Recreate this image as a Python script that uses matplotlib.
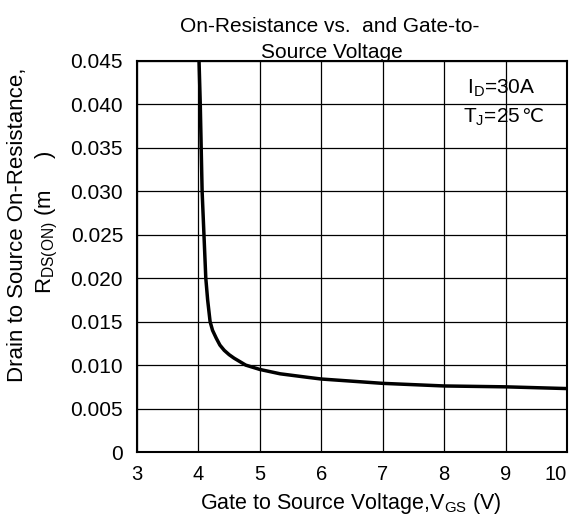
import matplotlib
matplotlib.use("Agg")
import matplotlib.pyplot as plt
import numpy as np

vgs = [4.01, 4.03, 4.045, 4.06, 4.09, 4.12, 4.15, 4.19, 4.23, 4.29, 4.35, 4.42, 4.50, 4.58, 4.77, 5.0, 5.33, 5.77, 6.0, 7.0, 8.0, 9.0, 10.0]
rds = [0.0450, 0.0400, 0.0350, 0.0300, 0.0250, 0.0200, 0.0175, 0.0150, 0.0140, 0.0131, 0.0123, 0.0117, 0.0112, 0.0108, 0.0100, 0.0095, 0.0090, 0.0086, 0.0084, 0.0079, 0.0076, 0.0075, 0.0073]

xticks = [3, 4, 5, 6, 7, 8, 9, 10]
yticks = [0, 0.005, 0.010, 0.015, 0.020, 0.025, 0.030, 0.035, 0.040, 0.045]
ytick_labels = ["0", "0.005", "0.010", "0.015", "0.020", "0.025", "0.030", "0.035", "0.040", "0.045"]

plt.rcParams['font.family'] = ['Liberation Sans', 'DejaVu Sans']
plt.rcParams['mathtext.fontset'] = 'custom'
plt.rcParams['mathtext.rm'] = 'Liberation Sans'

W, H = 575, 531
fig = plt.figure(figsize=(W/100, H/100), dpi=100)
ax = fig.add_axes([137/W, 1 - 452/H, (567-137)/W, (452-61)/H])

ax.plot(vgs, rds, color='black', lw=2.5, solid_capstyle='butt', solid_joinstyle='round')
ax.set_xlim(3, 10)
ax.set_ylim(0, 0.045)
ax.set_xticks(xticks)
ax.set_xticklabels([str(t) for t in xticks], fontsize=14.5)
ax.get_xticklabels()[-1].set_horizontalalignment('right')
ax.set_yticks(yticks)
ax.set_yticklabels(ytick_labels, fontsize=15)
ax.grid(True, color='black', lw=0.9)
ax.tick_params(length=0)
ax.tick_params(axis='x', pad=9)
ax.tick_params(axis='y', pad=10)
for s in ax.spines.values():
    s.set_linewidth(1.5)

def fx(px):
    return px / W
def fy(py):
    return 1 - py / H

fig.text(fx(330), fy(32), "On-Resistance vs.  and Gate-to-", ha='center', va='baseline', fontsize=15)
fig.text(fx(332), fy(58), "Source Voltage", ha='center', va='baseline', fontsize=15)

fig.text(fx(351), fy(503), "Gate to Source Voltage,V$_{\\mathregular{GS}}$ (V)", ha='center', va='center', fontsize=15.5)

fig.text(fx(18), fy(225), "Drain to Source On-Resistance,", rotation=90, ha='center', va='center', fontsize=16)
fig.text(fx(47), fy(222), "R$_{\\mathregular{DS(ON)}}$ (m     )", rotation=90, ha='center', va='center', fontsize=16)

fig.text(fx(467), fy(93), "I$_{\\mathregular{D}}$=30A", ha='left', va='baseline', fontsize=15)
t2 = fig.text(fx(463), fy(122), "T$_{\\mathregular{J}}$=25", ha='left', va='baseline', fontsize=15)
fig.canvas.draw()
bb = t2.get_window_extent(fig.canvas.get_renderer())
fig.text(bb.x1 / W + 1/W, fy(122), "℃", ha='left', va='baseline', fontsize=14, family='DejaVu Sans')

fig.savefig("out.png", dpi=100, facecolor='white')
